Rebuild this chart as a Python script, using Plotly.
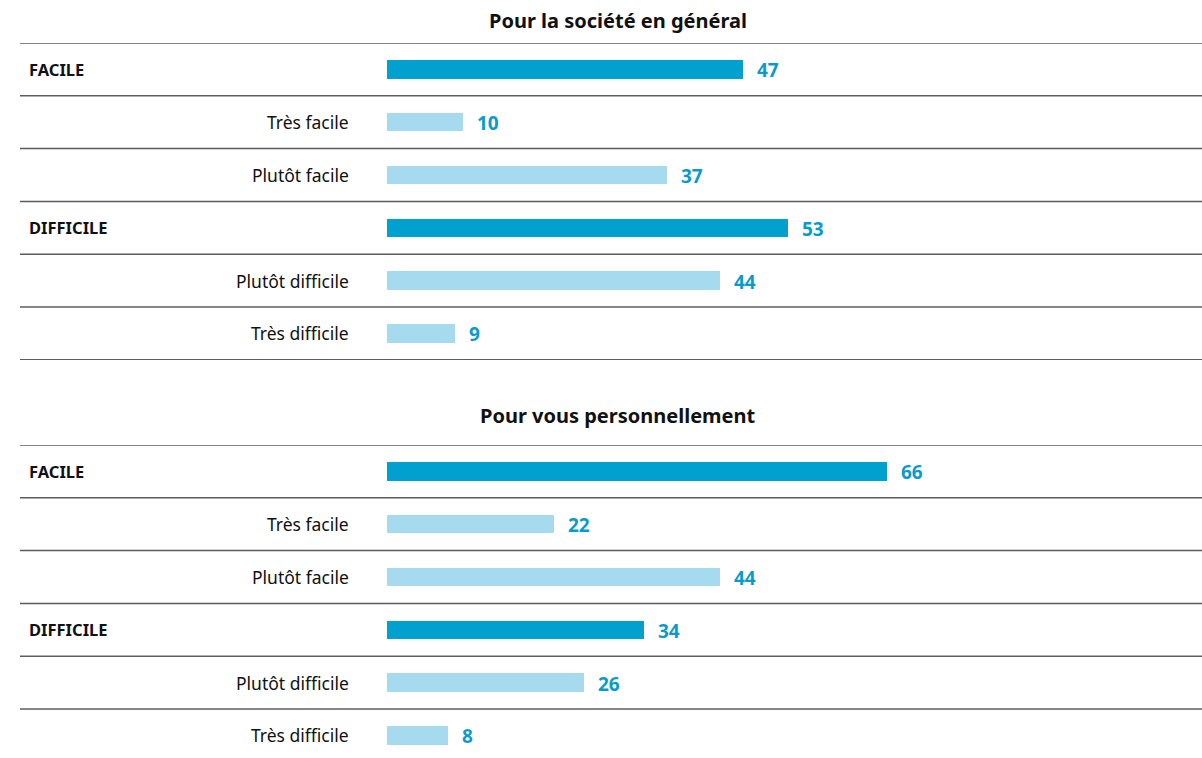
import plotly.graph_objects as go

# ---- data ----
panel_titles = ["Pour la société en général", "Pour vous personnellement"]
categories = ["FACILE", "Très facile", "Plutôt facile", "DIFFICILE", "Plutôt difficile", "Très difficile"]
is_total = [True, False, False, True, False, False]
societe = [47, 10, 37, 53, 44, 9]
personnel = [66, 22, 44, 34, 26, 8]

W, H = 1202, 758
DARK = "#00a0cf"
LIGHT = "#a5daef"
LABEL = "#0a9acb"
LINE = "#5c5c5c"
FONT = "Noto Sans"

px_per_unit = 7.57
bar_x0 = 387
x_range = [0, (W - bar_x0) / px_per_unit]
row_h = 52.8


def px(p):
    return p / W


def py(p):
    return 1 - p / H


fig = go.Figure()

panels = [
    dict(vals=societe, top=43, bottom=360, title_y=20, ax=""),
    dict(vals=personnel, top=445, bottom=H, title_y=415, ax="2"),
]

annotations = []
shapes = []
for i, p in enumerate(panels):
    colors = [DARK if t else LIGHT for t in is_total]
    fig.add_trace(go.Bar(
        x=p["vals"], y=categories, orientation="h",
        marker=dict(color=colors, line=dict(width=0)),
        width=0.35, hoverinfo="skip", showlegend=False,
        xaxis="x" + p["ax"], yaxis="y" + p["ax"],
    ))
    nrows = (p["bottom"] - p["top"]) / row_h
    xa = dict(domain=[px(bar_x0), 1], range=x_range, visible=False, fixedrange=True)
    ya = dict(domain=[max(0, py(p["bottom"])), py(p["top"])], range=[-0.5 + nrows, -0.5],
              type="category", categoryorder="array", categoryarray=categories,
              visible=False, fixedrange=True)
    if p["ax"]:
        xa["anchor"] = "y2"
        ya["anchor"] = "x2"
    fig.update_layout(**{"xaxis" + p["ax"]: xa, "yaxis" + p["ax"]: ya})
    yref = "y" + p["ax"]
    xref = "x" + p["ax"]
    # panel title
    annotations.append(dict(
        text="<b>" + panel_titles[i] + "</b>", x=px(618), y=py(p["title_y"]),
        xref="paper", yref="paper", xanchor="center", yanchor="middle",
        showarrow=False, font=dict(family=FONT, size=20, color="#111111")))
    for j, (cat, tot, v) in enumerate(zip(categories, is_total, p["vals"])):
        if tot:
            annotations.append(dict(
                text="<b>" + cat + "</b>", x=px(27), y=cat, xref="paper", yref=yref,
                xanchor="left", yanchor="middle", showarrow=False,
                font=dict(family=FONT, size=16.5, color="#111111")))
        else:
            annotations.append(dict(
                text=cat, x=px(351), y=cat, xref="paper", yref=yref,
                xanchor="right", yanchor="middle", showarrow=False,
                font=dict(family=FONT, size=17.5, color="#111111")))
        annotations.append(dict(
            text="<b>" + str(v) + "</b>", x=v, y=cat, xref=xref, yref=yref,
            xanchor="left", yanchor="middle", xshift=12, yshift=-1, showarrow=False,
            font=dict(family=FONT, size=19, color=LABEL)))
    # separator lines
    nlines = 7 if i == 0 else 6
    for k in range(nlines):
        shapes.append(dict(
            type="line", xref="paper", yref=yref, x0=px(20), x1=1,
            y0=k - 0.5, y1=k - 0.5, line=dict(color=LINE, width=1.5), layer="above"))

fig.update_layout(
    width=W, height=H, margin=dict(l=0, r=0, t=0, b=0),
    paper_bgcolor="white", plot_bgcolor="white",
    annotations=annotations, shapes=shapes, bargap=0,
)

fig.write_html(
    "out.html",
    config={"displayModeBar": False},
    post_script="document.body.style.margin='0';document.body.style.overflow='hidden';",
)
